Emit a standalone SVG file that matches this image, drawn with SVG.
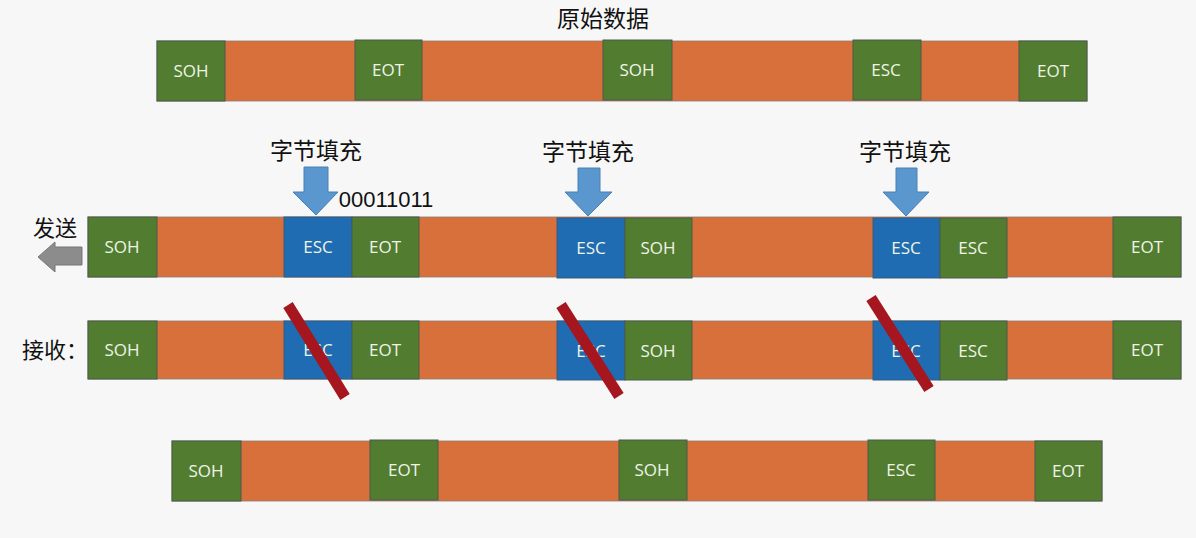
<svg xmlns="http://www.w3.org/2000/svg" width="1196" height="538" viewBox="0 0 1196 538">
<style>
.g{fill:#527d31;stroke:#4a5a4a;stroke-width:1}
.o{fill:#d8703c;stroke:#8a7a70;stroke-width:0.8}
.b{fill:#1f6cb3;stroke:#3a5a7a;stroke-width:1}
.t{font-family:"Open Sans","Noto Sans",sans-serif;font-size:17px;fill:#eef4e6;text-anchor:middle}
.cn{font-family:"Noto Sans CJK SC",sans-serif;font-size:23px;fill:#111;text-anchor:middle}
.ar{fill:#5b97cf;stroke:#4a80b5;stroke-width:1}
.sl{stroke:#a5161f;stroke-width:11;stroke-linecap:butt}
</style>
<rect width="1196" height="538" fill="#f7f7f7"/>
<text class="cn" x="603" y="27" font-size="24">原始数据</text>
<g id="row1">
<rect class="o" x="157" y="41" width="930" height="60"/>
<g id="r1-soh1"><rect class="g" x="157" y="41" width="68" height="60"/><text class="t" x="191" y="77">SOH</text></g>
<g id="r1-eot1"><rect class="g" x="355" y="40" width="67" height="60"/><text class="t" x="388" y="76">EOT</text></g>
<g id="r1-soh2"><rect class="g" x="603" y="40" width="69" height="60"/><text class="t" x="637" y="76">SOH</text></g>
<g id="r1-esc"><rect class="g" x="853" y="40" width="68" height="60"/><text class="t" x="886" y="76">ESC</text></g>
<g id="r1-eot2"><rect class="g" x="1019" y="41" width="68" height="60"/><text class="t" x="1053" y="77">EOT</text></g>
</g>
<g id="labels">
<text class="cn" x="316" y="159">字节填充</text>
<text class="cn" x="588" y="160">字节填充</text>
<text class="cn" x="905" y="160">字节填充</text>
<text x="386" y="207" font-family="'Liberation Sans',Arial,sans-serif" font-size="22" fill="#111" text-anchor="middle">00011011</text>
<text x="55" y="236" font-family="'Noto Sans CJK SC',sans-serif" font-size="22" fill="#111" text-anchor="middle">发送</text>
<text x="55" y="358" font-family="'Noto Sans CJK SC',sans-serif" font-size="22" fill="#111" text-anchor="middle">接收：</text>
</g>
<g id="connectors">
<polygon class="ar" points="304,167 328,167 328,192 338,192 316,215 293,192 304,192"/>
<polygon class="ar" points="578,168 600,168 600,192 612,192 588,216 565,192 578,192"/>
<polygon class="ar" points="896,168 917,168 917,192 929,192 906,216 883,192 896,192"/>
<polygon points="82,247 55,247 55,242 38,257 55,272 55,265 82,265" fill="#8c8c8c" stroke="#777" stroke-width="1"/>
</g>
<g id="row2">
<rect class="o" x="88" y="217" width="1093" height="60"/>
<g id="r2-soh1"><rect class="g" x="88" y="217" width="69" height="60"/><text class="t" x="122" y="253">SOH</text></g>
<g id="r2-esc1"><rect class="b" x="284" y="217" width="68" height="60"/><text class="t" x="318" y="253">ESC</text></g>
<g id="r2-eot1"><rect class="g" x="352" y="217" width="67" height="60"/><text class="t" x="385" y="253">EOT</text></g>
<g id="r2-esc2"><rect class="b" x="557" y="218" width="68" height="60"/><text class="t" x="591" y="254">ESC</text></g>
<g id="r2-soh2"><rect class="g" x="625" y="218" width="67" height="60"/><text class="t" x="658" y="254">SOH</text></g>
<g id="r2-esc3"><rect class="b" x="873" y="218" width="67" height="60"/><text class="t" x="906" y="254">ESC</text></g>
<g id="r2-esc4"><rect class="g" x="940" y="218" width="67" height="60"/><text class="t" x="973" y="254">ESC</text></g>
<g id="r2-eot2"><rect class="g" x="1113" y="217" width="68" height="60"/><text class="t" x="1147" y="253">EOT</text></g>
</g>
<g id="row3">
<rect class="o" x="88" y="321" width="1093" height="58"/>
<g id="r3-soh1"><rect class="g" x="88" y="321" width="69" height="58"/><text class="t" x="122" y="356">SOH</text></g>
<g id="r3-esc1"><rect class="b" x="284" y="321" width="68" height="58"/><text class="t" x="318" y="356">ESC</text></g>
<g id="r3-eot1"><rect class="g" x="352" y="321" width="67" height="58"/><text class="t" x="385" y="356">EOT</text></g>
<g id="r3-esc2"><rect class="b" x="557" y="321" width="68" height="59"/><text class="t" x="591" y="357">ESC</text></g>
<g id="r3-soh2"><rect class="g" x="625" y="321" width="67" height="59"/><text class="t" x="658" y="357">SOH</text></g>
<g id="r3-esc3"><rect class="b" x="873" y="321" width="67" height="59"/><text class="t" x="906" y="357">ESC</text></g>
<g id="r3-esc4"><rect class="g" x="940" y="321" width="67" height="59"/><text class="t" x="973" y="357">ESC</text></g>
<g id="r3-eot2"><rect class="g" x="1113" y="321" width="68" height="58"/><text class="t" x="1147" y="356">EOT</text></g>
</g>
<g id="slashes">
<line class="sl" x1="288" y1="305" x2="345" y2="397"/>
<line class="sl" x1="561" y1="305" x2="619" y2="396"/>
<line class="sl" x1="871" y1="298" x2="929" y2="389"/>
</g>
<g id="row4">
<rect class="o" x="172" y="441" width="930" height="60"/>
<g id="r4-soh1"><rect class="g" x="172" y="441" width="69" height="60"/><text class="t" x="206" y="477">SOH</text></g>
<g id="r4-eot1"><rect class="g" x="370" y="440" width="68" height="60"/><text class="t" x="404" y="476">EOT</text></g>
<g id="r4-soh2"><rect class="g" x="619" y="440" width="68" height="60"/><text class="t" x="652" y="476">SOH</text></g>
<g id="r4-esc"><rect class="g" x="868" y="440" width="67" height="60"/><text class="t" x="901" y="476">ESC</text></g>
<g id="r4-eot2"><rect class="g" x="1035" y="441" width="67" height="60"/><text class="t" x="1068" y="477">EOT</text></g>
</g>
</svg>
